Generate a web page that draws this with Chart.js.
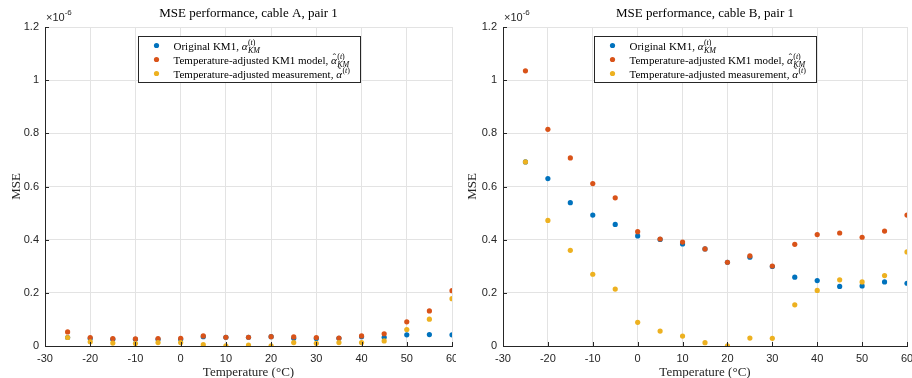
<!DOCTYPE html>
<html>
<head>
<meta charset="utf-8">
<script src="https://cdn.jsdelivr.net/npm/chart.js@4.4.1/dist/chart.umd.min.js"></script>
<style>
  body { margin: 0; background: #fff; }
  #wrap { position: relative; width: 912px; height: 378px; }
  canvas { position: absolute; top: 0; }
  #chartA { left: 0; }
  #chartB { left: 456px; }
</style>
</head>
<body>
<div id="wrap">
  <canvas id="chartA" width="456" height="378"></canvas>
  <canvas id="chartB" width="456" height="378"></canvas>
</div>
<script>
// temperatures in degrees C
var temps = [-25, -20, -15, -10, -5, 0, 5, 10, 15, 20, 25, 30, 35, 40, 45, 50, 55, 60];

// MSE values, in units of 1e-6
var cableA_original = [0.032, 0.028, 0.025, 0.025, 0.025, 0.025, 0.035, 0.033, 0.033, 0.035, 0.029, 0.028, 0.029, 0.035, 0.033, 0.042, 0.043, 0.042];
var cableA_model    = [0.053, 0.032, 0.028, 0.027, 0.028, 0.029, 0.038, 0.033, 0.033, 0.035, 0.034, 0.032, 0.030, 0.038, 0.046, 0.091, 0.132, 0.208];
var cableA_meas     = [0.032, 0.016, 0.011, 0.009, 0.013, 0.013, 0.005, 0.001, 0.003, 0.001, 0.013, 0.010, 0.013, 0.013, 0.019, 0.062, 0.101, 0.178];

var cableB_original = [0.6925, 0.630, 0.539, 0.4925, 0.4575, 0.414, 0.401, 0.384, 0.365, 0.315, 0.334, 0.299, 0.259, 0.246, 0.224, 0.226, 0.241, 0.236];
var cableB_model    = [1.035, 0.815, 0.7075, 0.611, 0.5575, 0.430, 0.4025, 0.391, 0.365, 0.315, 0.339, 0.301, 0.3825, 0.419, 0.425, 0.409, 0.4325, 0.4925];
var cableB_meas     = [0.6925, 0.4725, 0.360, 0.270, 0.214, 0.089, 0.056, 0.0375, 0.0125, 0.001, 0.030, 0.029, 0.155, 0.209, 0.249, 0.241, 0.265, 0.354];

var xTicks = [-30, -20, -10, 0, 10, 20, 30, 40, 50, 60];
var yTicks = [0, 0.2, 0.4, 0.6, 0.8, 1, 1.2];

var colBlue = '#0072BD';
var colRed = '#D95319';
var colYellow = '#EDB120';
var axisCol = '#262626';
var serif = '"Liberation Serif", "DejaVu Serif", serif';
var sans = '"Liberation Sans", Arial, sans-serif';

function pts(values) {
  var out = [];
  for (var i = 0; i < temps.length; i++) {
    out.push({ x: temps[i], y: values[i] });
  }
  return out;
}

// draws "α" with an accent, superscript and optional subscript
function drawAlpha(ctx, x, y, accent, sub) {
  ctx.font = 'italic 11px ' + serif;
  ctx.fillText('α', x, y);
  var w = ctx.measureText('α').width;
  if (accent) {
    ctx.font = '10px ' + serif;
    ctx.textAlign = 'center';
    ctx.fillText(accent, x + w / 2 + 0.5, y - 3);
    ctx.textAlign = 'left';
  }
  var sx = x + w + 0.5;
  ctx.font = '8px ' + serif;
  ctx.fillText('(', sx, y - 5);
  var p = ctx.measureText('(').width;
  ctx.font = 'italic 8px ' + serif;
  ctx.fillText('t', sx + p, y - 5);
  var t = ctx.measureText('t').width;
  ctx.font = '8px ' + serif;
  ctx.fillText(')', sx + p + t, y - 5);
  if (sub) {
    ctx.font = 'italic 8px ' + serif;
    ctx.fillText(sub, sx, y + 3);
  }
}

var matlabLook = {
  id: 'matlabLook',
  afterDraw: function(chart, args, opts) {
    var ctx = chart.ctx;
    var area = chart.chartArea;
    var xs = chart.scales.x;
    var ys = chart.scales.y;
    ctx.save();
    // inward ticks
    ctx.strokeStyle = axisCol;
    ctx.lineWidth = 1;
    ctx.beginPath();
    xTicks.forEach(function(v) {
      var px = Math.round(xs.getPixelForValue(v)) + 0.5;
      ctx.moveTo(px, area.bottom);
      ctx.lineTo(px, area.bottom - 4);
    });
    yTicks.forEach(function(v) {
      var py = Math.round(ys.getPixelForValue(v)) + 0.5;
      ctx.moveTo(area.left, py);
      ctx.lineTo(area.left + 4, py);
    });
    ctx.stroke();

    // title
    var cx = (area.left + area.right) / 2;
    ctx.fillStyle = '#000';
    ctx.textBaseline = 'alphabetic';
    ctx.textAlign = 'center';
    ctx.font = '13px ' + serif;
    ctx.fillText(opts.title, cx, 17);

    // axis labels
    ctx.fillStyle = axisCol;
    ctx.fillText('Temperature (°C)', cx, 376);
    ctx.save();
    ctx.translate(20, (area.top + area.bottom) / 2);
    ctx.rotate(-Math.PI / 2);
    ctx.fillText('MSE', 0, 0);
    ctx.restore();

    // exponent
    ctx.textAlign = 'left';
    ctx.font = '11px ' + sans;
    ctx.fillText('×10', area.left + 1, 21);
    var w = ctx.measureText('×10').width;
    ctx.font = '8px ' + sans;
    ctx.fillText('-6', area.left + 1 + w, 15);

    // legend
    var bw = 222, bh = 46;
    var bx = Math.round(cx - bw / 2) + 0.5;
    var by = 36.5;
    ctx.fillStyle = '#fff';
    ctx.fillRect(bx, by, bw, bh);
    ctx.strokeStyle = axisCol;
    ctx.strokeRect(bx, by, bw, bh);
    var rows = [
      { c: colBlue, t: 'Original KM1, ', accent: null, sub: 'KM' },
      { c: colRed, t: 'Temperature-adjusted KM1 model, ', accent: 'ˆ', sub: 'KM' },
      { c: colYellow, t: 'Temperature-adjusted measurement, ', accent: '˜', sub: null }
    ];
    rows.forEach(function(r, i) {
      var ry = by + 9 + i * 14;
      ctx.fillStyle = r.c;
      ctx.beginPath();
      ctx.arc(bx + 18, ry, 2.6, 0, Math.PI * 2);
      ctx.fill();
      ctx.fillStyle = '#000';
      ctx.textAlign = 'left';
      ctx.font = '11px ' + serif;
      ctx.fillText(r.t, bx + 35, ry + 4);
      var tw = ctx.measureText(r.t).width;
      drawAlpha(ctx, bx + 35 + tw, ry + 4, r.accent, r.sub);
    });
    ctx.restore();
  }
};

function makeChart(canvasId, original, model, meas, titleText, padLeft, padRight) {
  var ctx = document.getElementById(canvasId).getContext('2d');
  return new Chart(ctx, {
    type: 'scatter',
    data: {
      datasets: [
        { label: 'Original KM1', data: pts(original), backgroundColor: colBlue, borderWidth: 0, pointRadius: 2.6, order: 2 },
        { label: 'Temperature-adjusted KM1 model', data: pts(model), backgroundColor: colRed, borderWidth: 0, pointRadius: 2.6, order: 1 },
        { label: 'Temperature-adjusted measurement', data: pts(meas), backgroundColor: colYellow, borderWidth: 0, pointRadius: 2.6, order: 0 }
      ]
    },
    options: {
      responsive: false,
      animation: false,
      layout: { padding: { top: 27, right: padRight, left: 0, bottom: 0 } },
      plugins: {
        legend: { display: false },
        tooltip: { enabled: false },
        matlabLook: { title: titleText }
      },
      scales: {
        x: {
          type: 'linear',
          min: -30,
          max: 60,
          afterBuildTicks: function(s) { s.ticks = xTicks.map(function(v) { return { value: v }; }); },
          afterFit: function(s) { s.height = 32; s.paddingLeft = 0; s.paddingRight = 0; },
          ticks: { color: axisCol, font: { family: sans, size: 11 }, padding: 6, maxRotation: 0 },
          grid: { color: '#e3e3e3', drawTicks: false },
          border: { color: axisCol }
        },
        y: {
          type: 'linear',
          min: 0,
          max: 1.2,
          afterBuildTicks: function(s) { s.ticks = yTicks.map(function(v) { return { value: v }; }); },
          afterFit: function(s) { s.width = padLeft; s.paddingTop = 0; s.paddingBottom = 0; },
          ticks: {
            color: axisCol,
            font: { family: sans, size: 11 },
            padding: 6,
            callback: function(v) { return String(Math.round(v * 10) / 10); }
          },
          grid: { color: '#e3e3e3', drawTicks: false },
          border: { color: axisCol }
        }
      }
    },
    plugins: [matlabLook]
  });
}

makeChart('chartA', cableA_original, cableA_model, cableA_meas, 'MSE performance, cable A, pair 1', 45, 3);
makeChart('chartB', cableB_original, cableB_model, cableB_meas, 'MSE performance, cable B, pair 1', 47, 5);
</script>
</body>
</html>
